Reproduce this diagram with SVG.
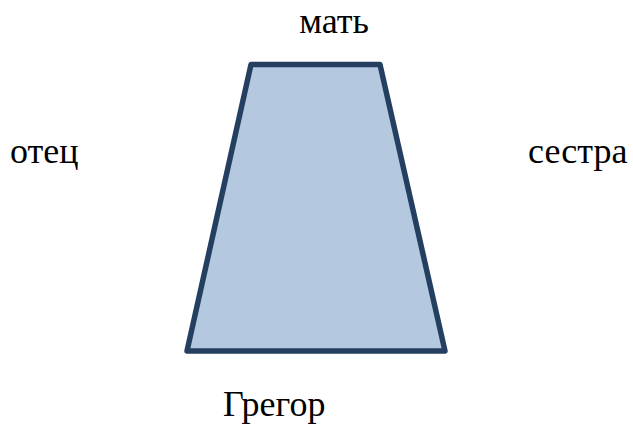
<svg xmlns="http://www.w3.org/2000/svg" width="633" height="426" viewBox="0 0 633 426">
<style>
.t{font-family:"Liberation Serif","Tinos","DejaVu Serif",serif;font-size:36px;fill:#000}
</style>
<rect width="633" height="426" fill="#fff"/>
<g id="shape">
<polygon points="251,64.5 380,64.5 445,351 187,351" fill="#b4c8e0" stroke="#243f60" stroke-width="5.5" stroke-linejoin="round"/>
</g>
<g id="label-mat"><text class="t" x="334" y="33" text-anchor="middle">мать</text></g>
<g id="label-otec"><text class="t" x="10" y="163">отец</text></g>
<g id="label-sestra"><text class="t" x="528" y="163">сестра</text></g>
<g id="label-gregor"><text class="t" x="223" y="416">Грегор</text></g>
</svg>
